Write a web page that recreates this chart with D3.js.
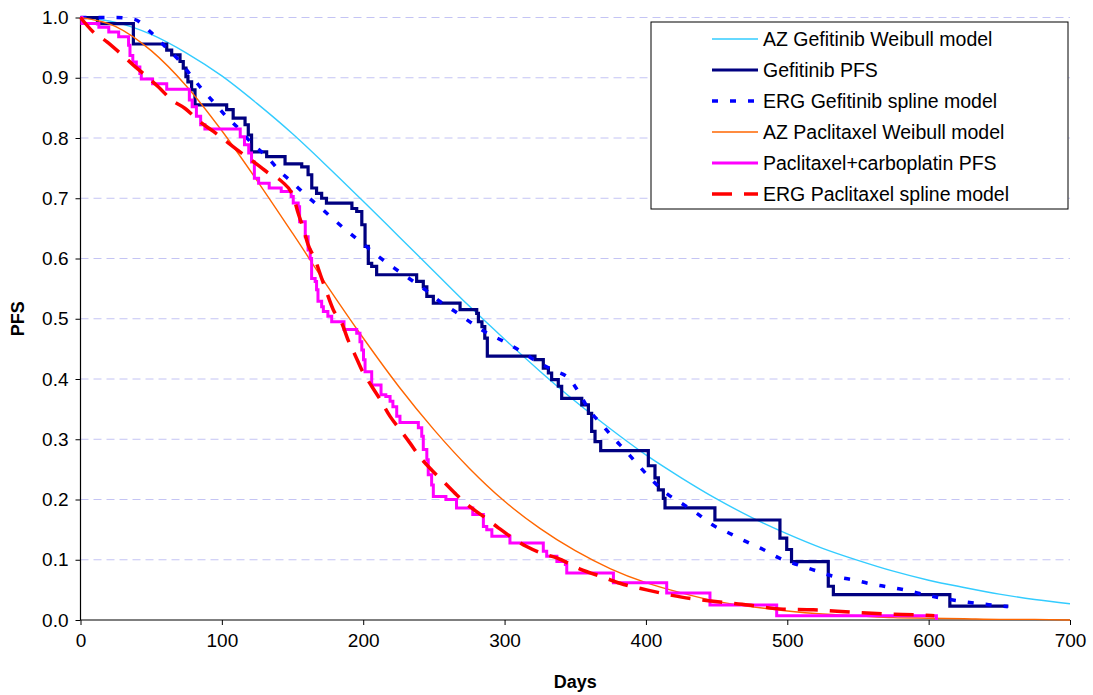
<!DOCTYPE html>
<html>
<head>
<meta charset="utf-8">
<script src="https://cdn.jsdelivr.net/npm/d3@7"></script>
<style>
  body { margin: 0; background: #fff; }
  text { font-family: "Liberation Sans", Arial, sans-serif; fill: #000; }
  .tick-label { font-size: 19px; }
  .axis-title { font-size: 18px; font-weight: bold; }
  .legend-text { font-size: 19.5px; }
</style>
</head>
<body>
<div id="chart"></div>
<script>
// tick values
var dayTicks = [0, 100, 200, 300, 400, 500, 600, 700];
var pfsTicks = [0, 0.1, 0.2, 0.3, 0.4, 0.5, 0.6, 0.7, 0.8, 0.9, 1.0];

// AZ Gefitinib Weibull model
var azGefitinib = [[0,1.0],[25,0.992],[50,0.972],[75,0.941],[100,0.903],[125,0.857],[150,0.807],
  [175,0.752],[200,0.695],[225,0.637],[250,0.579],[275,0.521],[300,0.466],[325,0.413],[350,0.363],
  [375,0.317],[400,0.274],[425,0.236],[450,0.201],[475,0.170],[500,0.143],[525,0.119],[550,0.099],
  [575,0.081],[600,0.066],[625,0.054],[650,0.043],[675,0.034],[700,0.027]];

// Gefitinib PFS (Kaplan-Meier steps: day the step happens, new value)
var gefitinibPfs = [[0,1.0],[12,0.99],[37.4,0.956],[61,0.946],[64.5,0.938],[70.4,0.927],[72.7,0.916],
  [74.6,0.902],[76,0.893],[78.6,0.880],[81,0.855],[103.4,0.847],[108,0.833],[116.4,0.822],[118.7,0.805],
  [121,0.777],[131.7,0.769],[144.7,0.757],[156.5,0.752],[161,0.739],[163.6,0.717],[167,0.708],
  [170.6,0.700],[174,0.692],[192,0.683],[195.4,0.678],[199,0.656],[201.3,0.620],[203.6,0.592],
  [206,0.587],[209.5,0.573],[237.8,0.562],[242.5,0.553],[245,0.537],[249.6,0.526],[268.5,0.515],
  [280.3,0.509],[281.5,0.495],[284,0.487],[286,0.468],[287.8,0.438],[321.5,0.432],[327.4,0.418],
  [331,0.410],[333.3,0.399],[338,0.388],[340.4,0.368],[354.6,0.357],[359.3,0.343],[361.6,0.313],
  [364,0.296],[368,0.281],[401.7,0.256],[406.4,0.236],[408.8,0.216],[412.3,0.202],[413.5,0.186],
  [448.8,0.166],[494.8,0.136],[499.6,0.117],[503,0.097],[529,0.056],[532.6,0.042],[615,0.023],
  [656.4,0.023]];

// ERG Gefitinib spline model
var ergGefitinib = [[0,1.0],[25,1.0],[38,0.997],[50,0.975],[61,0.949],[70,0.928],[78,0.904],[86,0.881],
  [94,0.860],[103,0.836],[113,0.813],[122,0.789],[132,0.769],[141,0.745],[150,0.726],[160,0.704],
  [170,0.684],[180,0.663],[190,0.643],[200,0.624],[211,0.603],[222,0.584],[233,0.566],[244,0.548],
  [254,0.529],[265,0.512],[276,0.494],[287,0.477],[299,0.463],[311,0.447],[323,0.429],[334,0.415],
  [346,0.400],[353,0.376],[360,0.348],[369,0.324],[377,0.302],[386,0.280],[395,0.256],[404,0.233],
  [414,0.211],[425,0.194],[436,0.177],[447,0.158],[459,0.144],[471,0.130],[483,0.117],[494,0.103],
  [507,0.092],[520,0.082],[532,0.073],[546,0.067],[559,0.060],[571,0.055],[585,0.049],[597,0.042],
  [610,0.036],[623,0.031],[636,0.027],[649,0.024],[656,0.022]];

// AZ Paclitaxel Weibull model
var azPaclitaxel = [[0,1.0],[25,0.985],[50,0.945],[75,0.886],[100,0.812],[125,0.729],[150,0.642],
  [175,0.553],[200,0.468],[225,0.388],[250,0.316],[275,0.252],[300,0.197],[325,0.152],[350,0.115],
  [375,0.085],[400,0.062],[425,0.045],[450,0.031],[475,0.022],[500,0.015],[525,0.010],[550,0.007],
  [575,0.004],[600,0.003],[625,0.002],[650,0.001],[675,0.001],[700,0.0]];

// Paclitaxel+carboplatin PFS (steps)
var paclitaxelPfs = [[0,1.0],[1,0.990],[13,0.984],[20,0.976],[27,0.968],[34,0.954],[35,0.937],[37,0.926],
  [39.5,0.918],[42,0.907],[43,0.898],[51,0.890],[61,0.881],[77,0.863],[79,0.852],[82,0.836],[85,0.822],
  [88,0.815],[113,0.802],[116,0.789],[119,0.775],[121,0.760],[123,0.733],[126,0.725],[133.5,0.717],
  [142,0.711],[149,0.703],[150.5,0.692],[154,0.686],[155,0.661],[159,0.636],[161,0.614],[162.5,0.600],
  [163.5,0.567],[166,0.562],[167,0.548],[168,0.529],[170.6,0.520],[171.8,0.512],[175,0.504],
  [177.7,0.495],[186.4,0.482],[195.4,0.476],[197.7,0.462],[199,0.448],[200.2,0.432],[201.3,0.412],
  [206,0.390],[212.6,0.374],[216,0.371],[219,0.363],[221,0.354],[223.7,0.338],[226,0.328],[239,0.319],
  [241.4,0.305],[242.5,0.283],[245,0.266],[246,0.241],[248.4,0.224],[249.6,0.205],[258.5,0.200],
  [266,0.186],[277.5,0.175],[285,0.155],[287.4,0.150],[291,0.139],[303.8,0.128],[327.4,0.114],
  [329.8,0.106],[337,0.097],[343,0.092],[344,0.078],[377,0.062],[414.7,0.045],[445.3,0.025],
  [492.5,0.007],[605.5,0.0]];

// ERG Paclitaxel spline model
var ergPaclitaxel = [[0,1.0],[9,0.976],[18.5,0.960],[28,0.941],[37.4,0.921],[46.8,0.902],[55,0.885],
  [64.5,0.863],[74,0.849],[84.5,0.827],[94,0.811],[103.4,0.794],[112.8,0.777],[122.2,0.761],
  [132.8,0.742],[142.3,0.728],[150.5,0.703],[154,0.675],[157.6,0.650],[161,0.623],[166,0.598],
  [170.6,0.567],[174,0.545],[178.8,0.515],[184.8,0.493],[189.4,0.464],[194.2,0.440],[199,0.415],
  [206,0.388],[212,0.366],[219,0.338],[226,0.316],[233,0.294],[240,0.271],[248.4,0.249],[257.9,0.227],
  [266,0.208],[275.5,0.188],[285,0.172],[295.6,0.153],[303.8,0.139],[315.6,0.122],[326,0.111],
  [337,0.103],[353,0.085],[371,0.070],[381.6,0.061],[400.5,0.050],[425.3,0.038],[447.6,0.031],
  [472.4,0.025],[497,0.018],[518.4,0.017],[545.6,0.013],[569,0.010],[596,0.008],[604,0.007]];

var seriesNames = ["AZ Gefitinib Weibull model", "Gefitinib PFS", "ERG Gefitinib spline model",
  "AZ Paclitaxel Weibull model", "Paclitaxel+carboplatin PFS", "ERG Paclitaxel spline model"];

var W = 1093, H = 695;
var plotLeft = 80.5, plotRight = 1070, plotTop = 17.5, plotBottom = 620;

var svg = d3.select("#chart")
  .append("svg")
    .attr("width", W)
    .attr("height", H);

var x = d3.scaleLinear().domain([0, 700]).range([plotLeft, plotRight]);
var y = d3.scaleLinear().domain([0, 1]).range([plotBottom, plotTop]);

// gridlines
svg.append("g")
  .selectAll("line")
  .data(pfsTicks.filter(d => d > 0))
  .enter()
    .append("line")
    .attr("x1", plotLeft)
    .attr("x2", plotRight)
    .attr("y1", d => y(d))
    .attr("y2", d => y(d))
    .attr("stroke", "#c4c4f4")
    .attr("stroke-width", 1)
    .attr("stroke-dasharray", "8,5");

// axes
var yAxis = svg.append("g")
  .attr("transform", "translate(" + plotLeft + ",0)")
  .call(d3.axisLeft(y).tickValues(pfsTicks).tickSize(5).tickPadding(7)
    .tickFormat(d3.format(".1f")));

var xAxis = svg.append("g")
  .attr("transform", "translate(0," + plotBottom + ")")
  .call(d3.axisBottom(x).tickValues(dayTicks).tickSize(5).tickPadding(9)
    .tickFormat(d3.format("d")));

[yAxis, xAxis].forEach(g => {
  g.select(".domain").attr("stroke", "#000").attr("stroke-width", 1.2);
  g.selectAll(".tick line").attr("stroke", "#000");
  g.selectAll(".tick text")
    .attr("class", "tick-label")
    .attr("font-family", null)
    .attr("font-size", null);
});
xAxis.select(".domain").attr("d", "M" + plotLeft + ",0H" + plotRight);
yAxis.select(".domain").attr("d", "M0," + plotBottom + "V" + plotTop);

// axis titles
svg.append("text")
  .attr("class", "axis-title")
  .attr("x", (plotLeft + plotRight) / 2)
  .attr("y", 688)
  .style("text-anchor", "middle")
  .text("Days");

svg.append("text")
  .attr("class", "axis-title")
  .attr("transform", "translate(24," + ((plotTop + plotBottom) / 2) + ") rotate(-90)")
  .style("text-anchor", "middle")
  .text("PFS");

// lines
var smooth = d3.line().x(d => x(d[0])).y(d => y(d[1])).curve(d3.curveMonotoneX);
var steps = d3.line().x(d => x(d[0])).y(d => y(d[1])).curve(d3.curveStepAfter);

var styles = [
  { data: azGefitinib, gen: smooth, color: "#33ccff", width: 1.4, dash: null },
  { data: gefitinibPfs, gen: steps, color: "#000080", width: 3.2, dash: null },
  { data: ergGefitinib, gen: smooth, color: "#0000ff", width: 3.5, dash: "6,12" },
  { data: azPaclitaxel, gen: smooth, color: "#ff6600", width: 1.4, dash: null },
  { data: paclitaxelPfs, gen: steps, color: "#ff00ff", width: 3, dash: null },
  { data: ergPaclitaxel, gen: smooth, color: "#ff0000", width: 3.5, dash: "20,12" }
];

styles.forEach(s => {
  svg.append("path")
    .attr("d", s.gen(s.data))
    .attr("fill", "none")
    .attr("stroke", s.color)
    .attr("stroke-width", s.width)
    .attr("stroke-dasharray", s.dash);
});

// legend
var legend = svg.append("g");
legend.append("rect")
  .attr("x", 651)
  .attr("y", 22)
  .attr("width", 417)
  .attr("height", 187)
  .attr("fill", "#fff")
  .attr("stroke", "#000")
  .attr("stroke-width", 1);

var rowY = d3.scaleLinear().domain([0, 5]).range([39, 194]);

styles.forEach((s, i) => {
  legend.append("line")
    .attr("x1", 712)
    .attr("x2", 758)
    .attr("y1", rowY(i))
    .attr("y2", rowY(i))
    .attr("stroke", s.color)
    .attr("stroke-width", s.width)
    .attr("stroke-dasharray", s.dash);
  legend.append("text")
    .attr("class", "legend-text")
    .attr("x", 763)
    .attr("y", rowY(i) + 7)
    .text(seriesNames[i]);
});
</script>
</body>
</html>
